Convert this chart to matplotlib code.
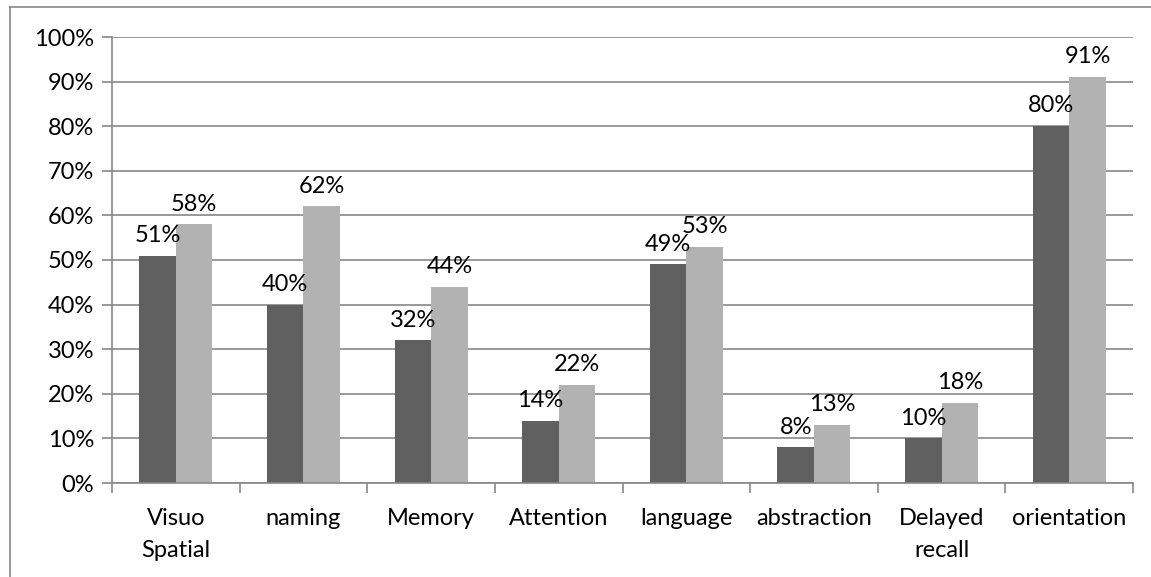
import matplotlib.pyplot as plt
import numpy as np
from matplotlib.lines import Line2D

categories = ['Visuo\nSpatial', 'naming', 'Memory', 'Attention', 'language',
              'abstraction', 'Delayed\nrecall', 'orientation']
series_a = [51, 40, 32, 14, 49, 8, 10, 80]
series_b = [58, 62, 44, 22, 53, 13, 18, 91]
yticks = [0, 10, 20, 30, 40, 50, 60, 70, 80, 90, 100]

plt.rcParams['font.family'] = ['Lato', 'DejaVu Sans']
fs = 17

fig = plt.figure(figsize=(11.51, 5.77), dpi=100)
ax = fig.add_axes([112 / 1151, 1 - 483 / 577, (1133 - 112) / 1151, (483 - 37) / 577])

# outer chart border (only top and left visible)
grey = '#878787'
fig.add_artist(Line2D([10 / 1151, 1], [1 - 7 / 577] * 2, color=grey, lw=1.2,
                      transform=fig.transFigure))
fig.add_artist(Line2D([10 / 1151] * 2, [0, 1 - 7 / 577], color=grey, lw=1.2,
                      transform=fig.transFigure))

x = np.arange(len(categories))
w = 0.286
bars_a = ax.bar(x - w / 2, series_a, w, color='#606060', zorder=2)
bars_b = ax.bar(x + w / 2, series_b, w, color='#b2b2b2', zorder=2)

for bars in (bars_a, bars_b):
    for b in bars:
        h = b.get_height()
        ax.annotate(f'{h}%', (b.get_x() + b.get_width() / 2, h),
                    xytext=(0, 7), textcoords='offset points',
                    ha='center', va='bottom', fontsize=fs, color='black')

ax.set_xlim(-0.5, len(categories) - 0.5)
ax.set_ylim(0, 100)
ax.set_yticks(yticks)
ax.set_yticklabels([f'{t}%' for t in yticks], fontsize=fs)
ax.yaxis.grid(True, color=grey, lw=1.2, zorder=0)

ax.set_xticks(x)
ax.set_xticklabels(categories, fontsize=fs, linespacing=1.65, va='top')
ax.set_xticks(np.arange(len(categories) + 1) - 0.5, minor=True)
ax.tick_params(axis='x', which='major', length=0, pad=18)
ax.tick_params(axis='x', which='minor', length=7, color=grey, width=1.2)
ax.tick_params(axis='y', length=7, color=grey, width=1.2, pad=6)

for side in ('top', 'right'):
    ax.spines[side].set_visible(False)
for side in ('left', 'bottom'):
    ax.spines[side].set_color(grey)
    ax.spines[side].set_linewidth(1.2)

fig.savefig('out.png', dpi=100)
